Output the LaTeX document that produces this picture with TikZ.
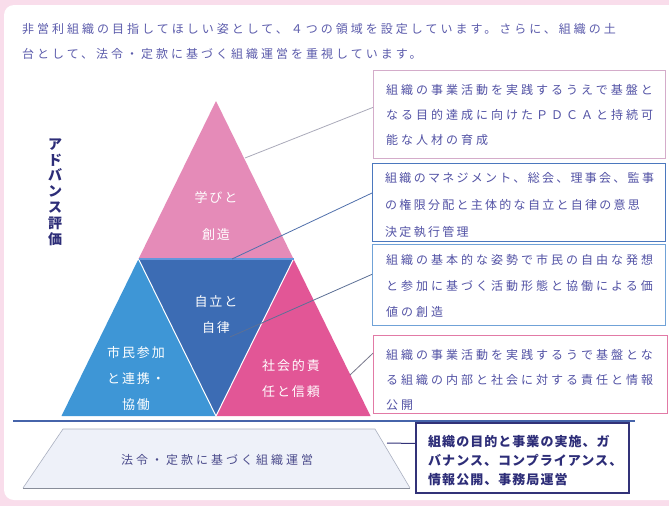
\documentclass[tikz,border=0pt]{standalone}
\usepackage{fontspec}
\newfontfamily\jp{Noto Sans CJK JP}
\usetikzlibrary{calc}
\definecolor{bgpink}{RGB}{249,221,235}
\definecolor{toppink}{RGB}{229,139,184}
\definecolor{midblue}{RGB}{60,108,180}
\definecolor{leftblue}{RGB}{62,150,214}
\definecolor{rightpink}{RGB}{226,86,150}
\definecolor{splitblue}{RGB}{100,150,220}
\definecolor{baseblue}{RGB}{70,100,170}
\definecolor{trapfill}{RGB}{238,241,249}
\definecolor{trapedge}{RGB}{170,176,192}
\definecolor{bxone}{RGB}{212,172,202}
\definecolor{bxtwo}{RGB}{75,120,190}
\definecolor{bxthree}{RGB}{112,162,215}
\definecolor{bxfour}{RGB}{226,122,166}
\definecolor{bxfive}{RGB}{50,50,120}
\definecolor{txtblue}{RGB}{82,82,165}
\definecolor{txtdark}{RGB}{45,45,120}
\definecolor{titleblue}{RGB}{92,92,172}
\definecolor{connA}{RGB}{170,170,186}
\definecolor{connB}{RGB}{80,112,172}
\definecolor{connC}{RGB}{92,112,150}
\definecolor{connD}{RGB}{120,120,140}
\newcommand\trifont[1]{\jp\fontsize{13}{#1}\selectfont\addfontfeature{LetterSpace=15}}
\newcommand\bxfont[2]{\jp\fontsize{12}{#1}\selectfont\addfontfeature{LetterSpace=#2}}
\tikzset{
  trilabel/.style={text=white, align=center, inner sep=0pt},
  infobox/.style={draw, line width=1pt, minimum width=#1, anchor=north west, inner sep=0pt},
  boxtext/.style={text=txtblue, align=left, anchor=west, inner sep=0pt},
  titletext/.style={anchor=west, inner sep=0pt, text=titleblue, font=\jp\fontsize{12}{12}\selectfont\addfontfeature{LetterSpace=25}},
  conn/.style={line width=0.8pt},
}
\begin{document}
\begin{tikzpicture}[x=1pt,y=-1pt]
\useasboundingbox (0,0) rectangle (669,506);
\fill[bgpink] (0,0) rectangle (669,506);
\fill[white, rounded corners=10pt] (4,5) rectangle (700,500);

% title
\node[titletext] (title1) at (22,29) {非営利組織の目指してほしい姿として、４つの領域を設定しています。さらに、組織の土};
\node[titletext] (title2) at (22,54) {台として、法令・定款に基づく組織運営を重視しています。};

% vertical label
\node[align=center, inner sep=0pt, text=txtdark, font=\jp\bfseries\fontsize{14}{15.8}\selectfont] (adv) at (55,192) {ア\\ド\\バ\\ン\\ス\\評\\価};

% pyramid points
\coordinate (A) at (216,101);
\coordinate (L1) at (138.5,259);
\coordinate (R1) at (293.5,259);
\coordinate (BL) at (61.5,416);
\coordinate (BM) at (216,416);
\coordinate (BR) at (370.5,416);

\fill[toppink] (A) -- (L1) -- (R1) -- cycle;
\fill[midblue] (L1) -- (R1) -- (BM) -- cycle;
\fill[leftblue] (L1) -- (BM) -- (BL) -- cycle;
\fill[rightpink] (R1) -- (BR) -- (BM) -- cycle;
\draw[white, line width=1pt] (L1) -- (BM) -- (R1);
\draw[splitblue, line width=1.6pt] (L1) -- (R1);

% base
\draw[baseblue, line width=2pt] (13,421) -- (635,421);
\fill[trapfill] (63,429) -- (375,429) -- (410,488) -- (23,488) -- cycle;
\draw[trapedge, line width=0.6pt] (23,488) -- (63,429) -- (375,429) -- (410,488);
\draw[trapedge!80!black, line width=1pt] (23,488) -- (410,488);
\node[inner sep=0pt, text=txtdark!85!white, font=\bxfont{12}{25}] (base) at (217,460) {法令・定款に基づく組織運営};

% triangle labels
\node[trilabel, font=\trifont{37}] (lab1) at (216,216.5) {学びと\\創造};
\node[trilabel, font=\trifont{26}] (lab2) at (216,315) {自立と\\自律};
\node[trilabel, font=\trifont{26}] (lab3) at (136,379) {市民参加\\と連携・\\協働};
\node[trilabel, font=\trifont{26}] (lab4) at (291,379) {社会的責\\任と信頼};

% boxes
\node[infobox=292pt, draw=bxone, minimum height=88pt] (box1) at (373,70) {};
\node[infobox=293pt, draw=bxtwo, minimum height=78pt] (box2) at (372,163) {};
\node[infobox=293pt, draw=bxthree, minimum height=81pt] (box3) at (372,244) {};
\node[infobox=294pt, draw=bxfour, minimum height=78pt] (box4) at (373,335) {};
\node[infobox=213pt, draw=bxfive, line width=1.6pt, minimum height=70pt] (box5) at (415,422) {};

\node[boxtext, font=\bxfont{25}{25}] (t1) at (386,115) {組織の事業活動を実践するうえで基盤と\\なる目的達成に向けたＰＤＣＡと持続可\\能な人材の育成};
\node[boxtext, font=\bxfont{27}{19}] (t2) at (385,205) {組織のマネジメント、総会、理事会、監事\\の権限分配と主体的な自立と自律の意思\\決定執行管理};
\node[boxtext, font=\bxfont{26}{25}] (t3) at (386,286) {組織の基本的な姿勢で市民の自由な発想\\と参加に基づく活動形態と協働による価\\値の創造};
\node[boxtext, font=\bxfont{25}{25}] (t4) at (386,380) {組織の事業活動を実践するうで基盤とな\\る組織の内部と社会に対する責任と情報\\公開};
\node[boxtext, text=txtdark, font=\jp\bfseries\fontsize{13}{19}\selectfont\addfontfeature{LetterSpace=8}] (t5) at (428,461) {組織の目的と事業の実施、ガ\\バナンス、コンプライアンス、\\情報公開、事務局運営};

% connectors
\coordinate (c1) at (245,158);
\coordinate (c2) at (232,259);
\coordinate (c3) at (230,337);
\coordinate (c4) at (350,375);
\coordinate (c5) at (387,443);
\draw[conn, connA] (c1) -- ($(box1.north west)!0.42!(box1.south west)$);
\draw[conn, connB] (c2) -- ($(box2.north west)!0.38!(box2.south west)$);
\draw[conn, connC] (c3) -- ($(box3.north west)!0.37!(box3.south west)$);
\draw[conn, connD] (c4) -- ($(box4.north west)!0.23!(box4.south west)$);
\draw[conn, bxfive, line width=1pt] (c5) -- ($(box5.north west)!0.3!(box5.south west)$);
\end{tikzpicture}
\end{document}
